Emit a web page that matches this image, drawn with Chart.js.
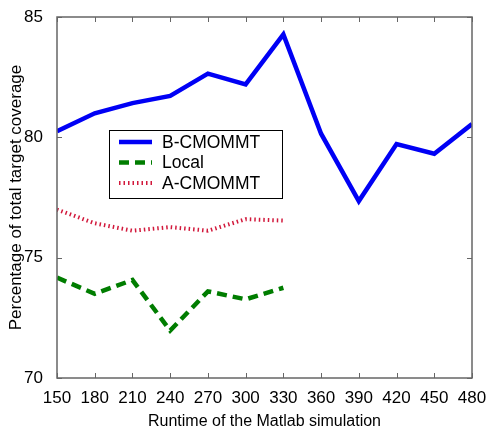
<!DOCTYPE html>
<html>
<head>
<meta charset="utf-8">
<script src="https://cdn.jsdelivr.net/npm/chart.js@4.4.0/dist/chart.umd.min.js"></script>
<style>
  html, body { margin: 0; padding: 0; background: #fff; }
  #wrap { width: 489px; height: 429px; }
</style>
</head>
<body>
<div id="wrap"><canvas id="chart" width="489" height="429"></canvas></div>
<script>
// runtime (x) values
var runtimes = [150, 180, 210, 240, 270, 300, 330, 360, 390, 420, 450, 480];
var xTicks = [150, 180, 210, 240, 270, 300, 330, 360, 390, 420, 450, 480];
var yTicks = [70, 75, 80, 85];

// coverage (%) per method
var bCmommt = [80.25, 81.0, 81.42, 81.72, 82.65, 82.2, 84.28, 80.15, 77.35, 79.72, 79.32, 80.55];
var local   = [74.17, 73.5, 74.07, 71.97, 73.6, 73.27, 73.75];
var aCmommt = [77.0, 76.43, 76.12, 76.27, 76.12, 76.6, 76.54];

function pts(vals) {
  var out = [];
  for (var i = 0; i < vals.length; i++) out.push({x: runtimes[i], y: vals[i]});
  return out;
}

var FONT = "'Liberation Sans', Arial, sans-serif";

// box round the plot with inward ticks, like MATLAB
var boxPlugin = {
  id: 'boxAxes',
  afterDatasetsDraw: function(chart) {
    var ctx = chart.ctx, a = chart.chartArea;
    var xs = chart.scales.x, ys = chart.scales.y;
    ctx.save();
    ctx.strokeStyle = '#666';
    ctx.lineWidth = 1.5;
    ctx.strokeRect(a.left, a.top, a.right - a.left, a.bottom - a.top);
    ctx.lineWidth = 1;
    ctx.beginPath();
    xTicks.forEach(function(v) {
      var px = Math.round(xs.getPixelForValue(v)) + 0.5;
      ctx.moveTo(px, a.bottom); ctx.lineTo(px, a.bottom - 5);
      ctx.moveTo(px, a.top); ctx.lineTo(px, a.top + 5);
    });
    yTicks.forEach(function(v) {
      var py = Math.round(ys.getPixelForValue(v)) + 0.5;
      ctx.moveTo(a.left, py); ctx.lineTo(a.left + 5, py);
      ctx.moveTo(a.right, py); ctx.lineTo(a.right - 5, py);
    });
    ctx.stroke();
    ctx.restore();
  }
};

// legend box sitting inside the plot
var legendBox = {
  id: 'legendBox',
  afterDraw: function(chart) {
    var ctx = chart.ctx;
    var bx = 109, by = 130, bw = 173, bh = 68;
    ctx.save();
    ctx.fillStyle = '#fff';
    ctx.fillRect(bx, by, bw, bh);
    ctx.strokeStyle = '#000';
    ctx.lineWidth = 1;
    ctx.strokeRect(bx + 0.5, by + 0.5, bw, bh);
    ctx.font = '17.5px ' + FONT;
    ctx.textBaseline = 'middle';
    chart.data.datasets.forEach(function(ds, i) {
      var y = by + 12 + i * 20.5;
      ctx.beginPath();
      ctx.strokeStyle = ds.borderColor;
      ctx.lineWidth = ds.borderWidth;
      ctx.setLineDash(ds.borderDash || []);
      ctx.moveTo(119, y); ctx.lineTo(152, y);
      ctx.stroke();
      ctx.setLineDash([]);
      ctx.fillStyle = '#000';
      ctx.fillText(ds.label, 162, y + 1);
    });
    ctx.restore();
  }
};

new Chart(document.getElementById('chart').getContext('2d'), {
  type: 'line',
  data: {
    datasets: [{
      label: 'B-CMOMMT',
      data: pts(bCmommt),
      borderColor: 'rgb(0,0,245)',
      borderWidth: 4.5,
      pointRadius: 0,
      fill: false
    }, {
      label: 'Local',
      data: pts(local),
      borderColor: 'rgb(0,125,0)',
      borderWidth: 4.5,
      borderDash: [10, 6],
      pointRadius: 0,
      fill: false
    }, {
      label: 'A-CMOMMT',
      data: pts(aCmommt),
      borderColor: 'rgb(210,25,60)',
      borderWidth: 4,
      borderDash: [1.5, 3],
      pointRadius: 0,
      fill: false
    }]
  },
  options: {
    responsive: false,
    animation: false,
    layout: { padding: { top: 17, right: 17, left: 0, bottom: 0 } },
    plugins: {
      legend: { display: false },
      tooltip: { enabled: false }
    },
    scales: {
      x: {
        type: 'linear',
        min: 150, max: 480,
        afterBuildTicks: function(s) { s.ticks = xTicks.map(function(v) { return {value: v}; }); },
        afterFit: function(s) { s.height = 51; },
        grid: { display: false },
        border: { display: false },
        ticks: { color: '#000', font: { size: 17, family: FONT }, padding: 2, maxRotation: 0 },
        title: { display: true, text: 'Runtime of the Matlab simulation', color: '#000',
                 font: { size: 16, family: FONT }, padding: { top: 2, bottom: -2 } }
      },
      y: {
        min: 70, max: 85,
        afterBuildTicks: function(s) { s.ticks = yTicks.map(function(v) { return {value: v}; }); },
        afterFit: function(s) { s.width = 57; },
        grid: { display: false },
        border: { display: false },
        ticks: { color: '#000', font: { size: 17, family: FONT }, padding: 6 },
        title: { display: true, text: 'Percentage of total target coverage', color: '#000',
                 font: { size: 17, family: FONT }, padding: { top: 6, bottom: 2 } }
      }
    }
  },
  plugins: [boxPlugin, legendBox]
});
</script>
</body>
</html>
